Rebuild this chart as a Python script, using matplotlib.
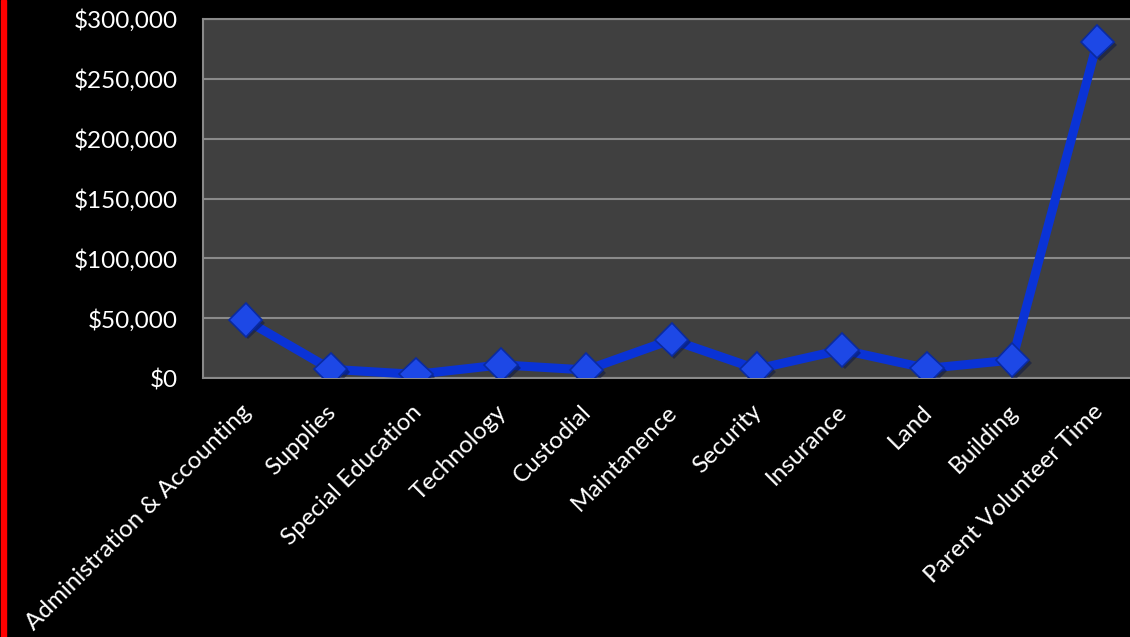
import numpy as np
import matplotlib.pyplot as plt
import matplotlib.transforms as mtransforms
from matplotlib.patches import Rectangle
from matplotlib.ticker import FuncFormatter
import matplotlib.patheffects as pe

categories = ["Administration & Accounting", "Supplies", "Special Education",
              "Technology", "Custodial", "Maintanence", "Security", "Insurance",
              "Land", "Building", "Parent Volunteer Time"]
costs = [48500, 7300, 3000, 11000, 6700, 32000, 7500, 23500, 8000, 15000, 281000]
y_ticks = [0, 50000, 100000, 150000, 200000, 250000, 300000]

plt.rcParams['font.family'] = ['Lato', 'DejaVu Sans']

W, H = 1130, 637
fig = plt.figure(figsize=(W / 100, H / 100), dpi=100, facecolor='black')
ax = fig.add_axes([203 / W, (H - 378) / H, 937 / W, 359 / H])
ax.set_facecolor('#404040')

x = np.arange(len(categories))
ax.plot(x, costs, color='#0a33d6', lw=6.5, solid_joinstyle='miter', zorder=3)
ax.plot(x, costs, ls='none', marker='D', ms=17, color='#1d48e6',
        markeredgecolor='#0a2aa0', markeredgewidth=1.2, zorder=4,
        path_effects=[pe.SimplePatchShadow(offset=(2, -2), alpha=0.5), pe.Normal()])

ax.set_xlim(-0.5, len(categories) - 0.5)
ax.set_ylim(0, 300000)
ax.set_yticks(y_ticks)
ax.yaxis.set_major_formatter(FuncFormatter(lambda v, p: f"${v:,.0f}"))
ax.grid(axis='y', color='#8a8a8a', lw=1.5, zorder=1)
ax.set_axisbelow(True)
for s in ax.spines.values():
    s.set_color('#8a8a8a')
    s.set_linewidth(1.5)

ax.tick_params(axis='y', length=0, pad=18, labelsize=17.5, labelcolor='white')
ax.tick_params(axis='x', length=0, pad=22, labelsize=17.5, labelcolor='white')
ax.set_xticks(x)
ax.set_xticklabels(categories, rotation=45, ha='right', va='center',
                   rotation_mode='anchor')
offset = mtransforms.ScaledTranslation(2 / 100, 0, fig.dpi_scale_trans)
for lab in ax.get_xticklabels():
    lab.set_transform(lab.get_transform() + offset)

# red edge on the left side of the slide
fig.patches.append(Rectangle((1 / W, 0), 5 / W, 1, transform=fig.transFigure,
                             color='red', zorder=10))

fig.savefig("out.png", dpi=100, facecolor='black')
